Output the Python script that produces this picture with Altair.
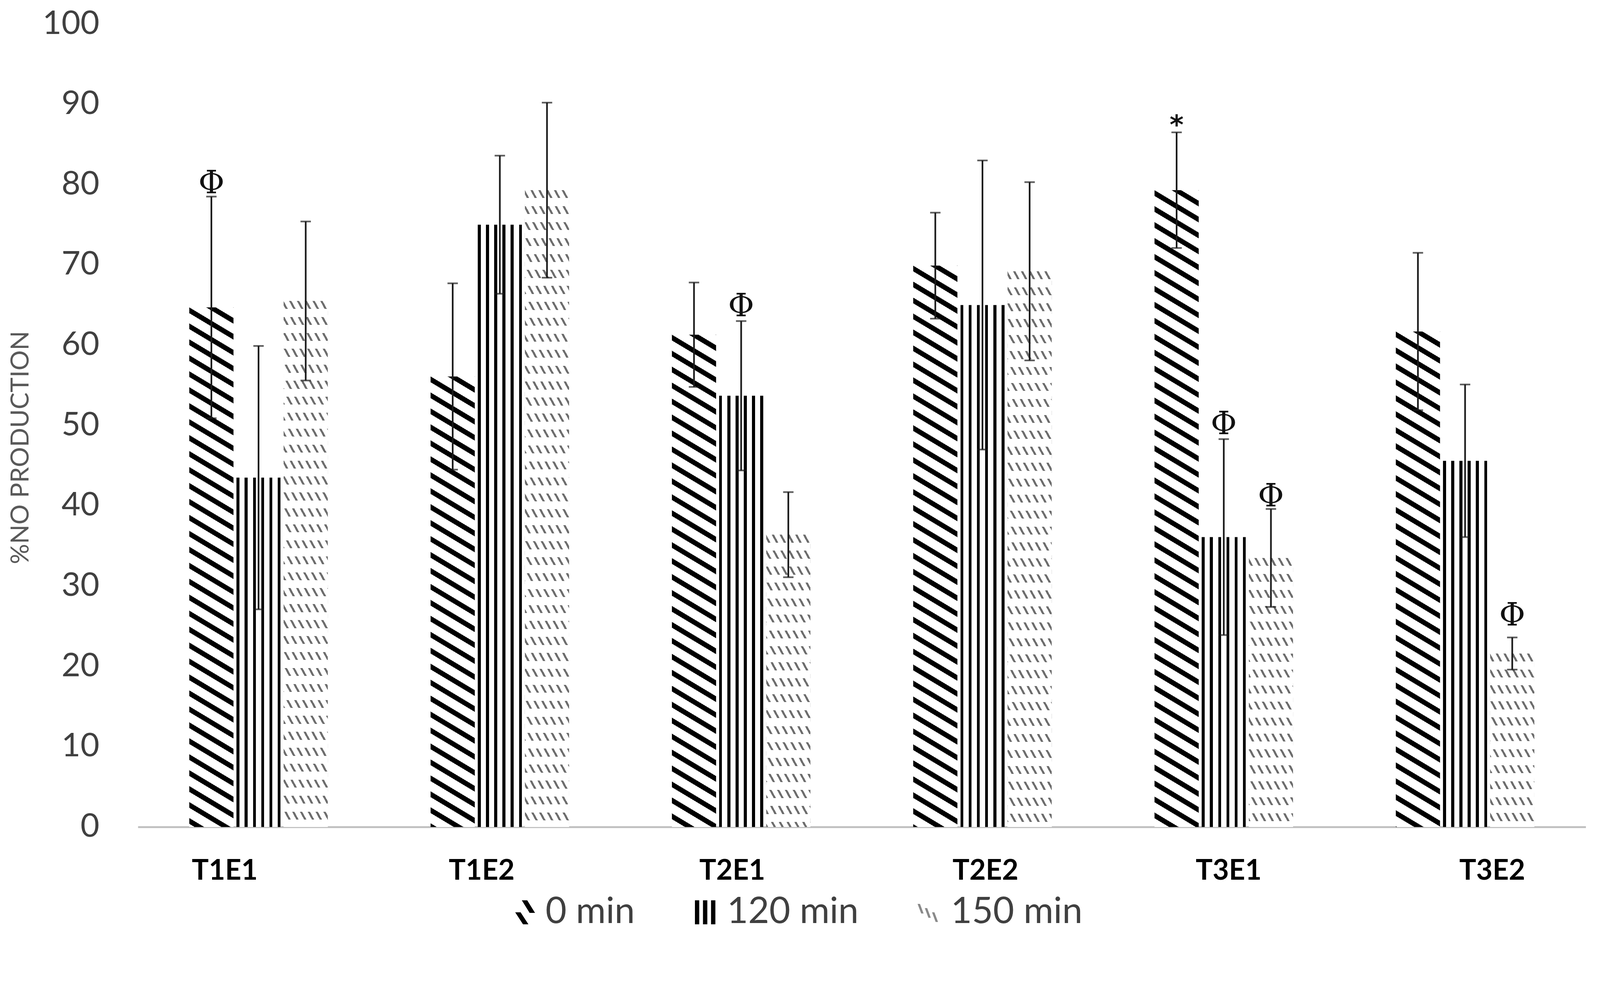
import math
import altair as alt

# ---------------- data ----------------
categories = ["T1E1", "T1E2", "T2E1", "T2E2", "T3E1", "T3E2"]
series = ["0 min", "120 min", "150 min"]

values_0 = [64.7, 56.1, 61.3, 69.9, 79.3, 61.7]
values_120 = [43.5, 75.0, 53.7, 65.0, 36.1, 45.6]
values_150 = [65.5, 79.3, 36.4, 69.2, 33.5, 21.6]

errors_0 = [13.8, 11.6, 6.5, 6.6, 7.2, 9.8]
errors_120 = [16.4, 8.6, 9.3, 18.0, 12.2, 9.5]
errors_150 = [9.9, 10.9, 5.3, 11.1, 6.1, 2.0]

phi_cats = ["T1E1", "T2E1", "T3E1", "T3E1", "T3E2"]
phi_series = ["0 min", "120 min", "120 min", "150 min", "150 min"]
phi_values = [80.1, 64.8, 50.1, 41.1, 26.3]

star_cats = ["T3E1"]
star_series = ["0 min"]
star_values = [87.8]

y_ticks = list(range(0, 101, 10))

# ---------------- layout ----------------
W, H = 3900, 2164
PAD_IN, PAD_OUT, SUB_PAD = 0.426, 0.213, 0.063
step = W / (len(categories) - PAD_IN + 2 * PAD_OUT)
group_w = step * (1 - PAD_IN)
sub_step = group_w / (len(series) - SUB_PAD)
bar_w = sub_step * (1 - SUB_PAD)
px_per_unit = H / 100.0


# ---------------- hatch patterns as sharp-stop gradients ----------------
def band_stops(c_min, c_max, period, frac, on, off, phase=0.0):
    L = c_max - c_min
    stops = [{"offset": 0, "color": off}]
    k0 = math.floor((c_min - phase) / period) - 1
    k1 = math.ceil((c_max - phase) / period) + 1
    for k in range(k0, k1 + 1):
        a = (k * period + phase - c_min) / L
        b = (k * period + phase + frac * period - c_min) / L
        if b <= 0 or a >= 1:
            continue
        a = round(max(a, 0.0), 6)
        b = round(min(b, 1.0), 6)
        stops += [
            {"offset": a, "color": off},
            {"offset": a, "color": on},
            {"offset": b, "color": on},
            {"offset": b, "color": off},
        ]
    stops.append({"offset": 1, "color": off})
    return stops


def diagonal(h, w, slope, period, frac, on, off):
    # stripes along y - slope*x = const (pixel space, y downward)
    kk = (h + slope * w) / (slope ** 2 * w ** 2 + h ** 2)
    return {
        "gradient": "linear",
        "x1": 1, "y1": 0,
        "x2": 1 - slope * w * kk, "y2": h * kk,
        "stops": band_stops(-slope * w, h, period, frac, on, off),
    }


def vertical(w, n, line_w, on, off):
    stops = [{"offset": 0, "color": off}]
    for i in range(n):
        a = i * (w - line_w) / (n - 1) / w
        b = a + line_w / w
        a, b = round(a, 6), round(min(b, 1.0), 6)
        stops += [
            {"offset": a, "color": off},
            {"offset": a, "color": on},
            {"offset": b, "color": on},
            {"offset": b, "color": off},
        ]
    stops.append({"offset": 1, "color": off})
    return {"gradient": "linear", "x1": 0, "y1": 0, "x2": 1, "y2": 0, "stops": stops}


def horizontal_bands(h, period, frac, on, off):
    return {
        "gradient": "linear",
        "x1": 0, "y1": 0, "x2": 0.000001, "y2": 1,
        "stops": band_stops(0, h, period, frac, on, off, phase=period * (1 - frac)),
    }


all_values = [values_0, values_120, values_150]
all_errors = [errors_0, errors_120, errors_150]

bar_rows, over_rows = [], []
for si, s in enumerate(series):
    for ci, c in enumerate(categories):
        v = all_values[si][ci]
        e = all_errors[si][ci]
        h = v * px_per_unit
        if si == 0:
            pat = diagonal(h, bar_w, 0.6, 43.0, 0.36, "#000000", "#ffffff")
        elif si == 1:
            pat = vertical(bar_w, 6, 8.0, "#000000", "#ffffff")
        else:
            pat = diagonal(h, bar_w, 1.85, 38.9, 0.30, "#6e6e6e", "#ffffff")
            over_rows.append({"cat": c, "series": s, "value": v,
                              "pat": horizontal_bands(h, 43.0, 0.5, "#ffffff", "rgba(255,255,255,0)")})
        bar_rows.append({"cat": c, "series": s, "value": v, "lo": v - e, "hi": v + e, "pat": pat})

phi_rows = [{"cat": c, "series": s, "y": y, "t": "\u03a6"} for c, s, y in zip(phi_cats, phi_series, phi_values)]
star_rows = [{"cat": c, "series": s, "y": y, "t": "*"} for c, s, y in zip(star_cats, star_series, star_values)]

# ---------------- encodings ----------------
x_shift = {"T1E1": -91, "T1E2": -49, "T2E1": -24, "T2E2": 8, "T3E1": 13, "T3E2": 73}
shift_expr = " : ".join(f"datum.value == '{k}' ? {v}" for k, v in x_shift.items()) + " : 0"

x_axis = alt.Axis(
    title=None, labelAngle=0, ticks=False, grid=False,
    domainColor="#bfbfbf", domainWidth=5,
    labelFont="Lato", labelFontWeight="bold", labelFontSize=76, labelColor="#000000",
    labelPadding=119, labelBaseline="middle",
    labelOffset={"expr": shift_expr},
)
y_axis = alt.Axis(
    title="%NO PRODUCTION", values=y_ticks, domain=False, ticks=False, grid=False,
    labelFont="Lato", labelFontSize=88, labelColor="#404040", labelPadding=104,
    titleFont="Lato", titleFontSize=68, titleFontWeight="normal", titleColor="#595959",
    titleAngle=270, titleX=-315, titleY=1141, titleAlign="center", titleBaseline="middle",
)

x_enc = alt.X("cat:N", sort=categories,
              scale=alt.Scale(domain=categories, paddingInner=PAD_IN, paddingOuter=PAD_OUT),
              axis=x_axis)
xo_enc = alt.XOffset("series:N", sort=series,
                     scale=alt.Scale(domain=series, paddingInner=SUB_PAD, paddingOuter=0))
y_scale = alt.Scale(domain=[0, 100], nice=False, zero=True)

bars = alt.Chart(alt.Data(values=bar_rows)).mark_bar(strokeWidth=0).encode(
    x=x_enc, xOffset=xo_enc,
    y=alt.Y("value:Q", scale=y_scale, axis=y_axis, stack=None),
    fill=alt.Fill("pat:N", scale=None),
)

overlay = alt.Chart(alt.Data(values=over_rows)).mark_bar(strokeWidth=0).encode(
    x=x_enc, xOffset=xo_enc,
    y=alt.Y("value:Q", scale=y_scale, axis=y_axis, stack=None),
    fill=alt.Fill("pat:N", scale=None),
)

err_line = alt.Chart(alt.Data(values=bar_rows)).mark_rule(color="#1a1a1a", strokeWidth=4.5).encode(
    x=x_enc, xOffset=xo_enc,
    y=alt.Y("lo:Q", scale=y_scale, axis=y_axis),
    y2="hi:Q",
)
cap_hi = alt.Chart(alt.Data(values=bar_rows)).mark_tick(color="#1a1a1a", size=28, thickness=4.5).encode(
    x=x_enc, xOffset=xo_enc,
    y=alt.Y("hi:Q", scale=y_scale, axis=y_axis),
)
cap_lo = alt.Chart(alt.Data(values=bar_rows)).mark_tick(color="#1a1a1a", size=28, thickness=4.5).encode(
    x=x_enc, xOffset=xo_enc,
    y=alt.Y("lo:Q", scale=y_scale, axis=y_axis),
)

phi = alt.Chart(alt.Data(values=phi_rows)).mark_text(
    font="DejaVu Serif", fontSize=86, color="#111111", baseline="middle", align="center"
).encode(
    x=x_enc, xOffset=xo_enc,
    y=alt.Y("y:Q", scale=y_scale, axis=y_axis),
    text="t:N",
)
star = alt.Chart(alt.Data(values=star_rows)).mark_text(
    font="DejaVu Sans", fontSize=72, fontWeight="bold", color="#111111",
    baseline="middle", align="center", dy=10
).encode(
    x=x_enc, xOffset=xo_enc,
    y=alt.Y("y:Q", scale=y_scale, axis=y_axis),
    text="t:N",
)

# legend (symbols echo the hatch patterns)
legend_paths = [
    "M-0.15,-1L0.3,-1L0.95,0.05L0.5,0.05Z M-0.7,0.0L-0.25,0.0L0.4,1L-0.05,1Z",
    "M-0.85,-1h0.36v2h-0.36Z M-0.18,-1h0.36v2h-0.36Z M0.49,-1h0.36v2h-0.36Z",
    "M-0.95,-0.7L-0.75,-0.7L-0.45,0.1L-0.65,0.1Z M-0.35,-0.35L-0.15,-0.35L0.15,0.45L-0.05,0.45Z "
    "M0.25,0.0L0.45,0.0L0.75,0.8L0.55,0.8Z",
]
legend_colors = ["#000000", "#000000", "#8a8a8a"]
leg = alt.Legend(
    title=None, orient="none", legendX=990, legendY=2345, direction="horizontal",
    labelFont="Lato", labelFontSize=98, labelColor="#404040", labelOffset=10, labelLimit=2000,
    columnPadding=140, symbolSize=4200, symbolStrokeWidth=0,
)
legend_layer = alt.Chart(alt.Data(values=bar_rows)).transform_filter("false").mark_point(
    filled=True, opacity=1
).encode(
    x=x_enc, xOffset=xo_enc,
    y=alt.Y("value:Q", scale=y_scale, axis=y_axis),
    color=alt.Color("series:N", scale=alt.Scale(domain=series, range=legend_colors), legend=leg),
    shape=alt.Shape("series:N", scale=alt.Scale(domain=series, range=legend_paths), legend=leg),
)

chart = alt.layer(bars, overlay, err_line, cap_hi, cap_lo, phi, star, legend_layer).properties(
    width=W, height=H,
    autosize=alt.AutoSizeParams(type="none"),
    padding={"left": 363, "top": -8, "right": 30, "bottom": 300},
    background="#ffffff",
).configure_view(stroke=None)

chart.save("out.html", embed_options={"renderer": "svg", "actions": False})
